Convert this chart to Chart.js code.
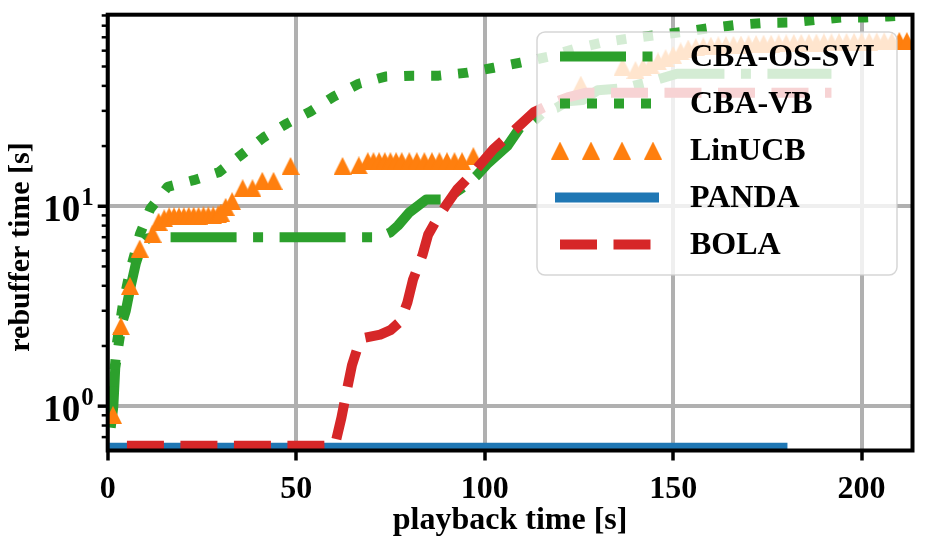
<!DOCTYPE html>
<html>
<head>
<meta charset="utf-8">
<script src="https://cdn.jsdelivr.net/npm/chart.js@4.4.1/dist/chart.umd.min.js"></script>
<style>
  html, body { margin: 0; padding: 0; background: #fff; }
  canvas { display: block; }
</style>
</head>
<body>
<canvas id="myChart" width="928" height="540"></canvas>
<script>
'use strict';

let xTicks = [0, 50, 100, 150, 200];
let yMajor = [1, 10];
let yMinor = [0.7, 0.8, 0.9, 2, 3, 4, 5, 6, 7, 8, 9, 20, 30, 40, 50, 60, 70, 80, 90];
let legendNames = ['CBA-OS-SVI', 'CBA-VB', 'LinUCB', 'PANDA', 'BOLA'];

// CBA-OS-SVI (green, dash-dot)
let sviTime = [0.8, 1.5, 2.0, 3.0, 3.8, 4.8, 6.0, 7.5, 9.0, 10.5, 12.5, 20, 30, 40, 50, 60, 72, 75, 77, 80, 84.5, 90, 92.5, 95.5, 98, 100.6, 106, 109.4, 112, 116, 119, 122, 126, 130, 137, 144, 151, 160, 170, 180, 192];
let sviRebuf = [0.78, 1.0, 1.55, 2.1, 2.6, 3.0, 3.9, 5.2, 6.4, 6.9, 7.0, 7.0, 7.0, 7.0, 7.0, 7.0, 7.0, 7.4, 8.0, 9.3, 10.8, 10.8, 11.8, 12.9, 14.3, 16.2, 20, 24.8, 25.6, 30, 31, 33.5, 34, 38, 39, 42, 46, 46, 46, 46, 46];

// CBA-VB (green, dotted)
let vbTime = [0.8, 1.5, 2.5, 4, 6, 8.6, 11.3, 15.9, 22.8, 29.5, 35.3, 41.4, 47.5, 53.8, 60, 66.6, 73.7, 80.9, 87.8, 95.5, 102.4, 109.5, 117, 124, 131, 138, 146, 152.8, 160, 167, 174, 181, 188, 194.5, 201, 207, 212];
let vbRebuf = [0.82, 1.3, 2.1, 3.2, 4.8, 7.3, 9.7, 12.5, 13.5, 14.8, 18.0, 22.1, 25.9, 29.8, 35.4, 41.0, 44.5, 45, 45, 46.6, 49.3, 52.3, 56, 61.4, 65.8, 68.9, 72, 74.5, 78, 80.8, 82.6, 83, 85.5, 88, 88, 89, 90];

// LinUCB (orange triangles)
let linTime = [1.4, 3.5, 5.9, 8.5, 11.9, 13.5, 15.0, 16.3, 17.6, 18.9, 20.2, 21.5, 22.8, 24.1, 25.4, 26.7, 28.0, 29.3, 30.0, 31.3, 33.0, 35.8, 38.4, 41.0, 44.0, 48.5,
  62.3, 66.6, 69.0, 70.5, 72.0, 73.5, 75.0, 76.5, 78.0, 80.0, 82.0, 84.0, 86.0, 88.0, 90.0, 92.0, 94.0, 97.0,
  125.5, 136.6, 140, 142, 144, 146, 148, 150, 152, 154, 156, 158, 160, 162, 164, 166, 168, 170, 172, 174, 176, 178, 180,
  182, 184, 186, 188, 190, 192, 194, 196, 198, 200, 202, 204, 206, 208, 210, 212];
let linRebuf = [0.905, 2.51, 4.0, 6.14, 7.28, 8.36, 8.7, 8.9, 8.9, 8.9, 8.9, 8.95, 8.95, 8.95, 9.0, 9.0, 9.0, 9.1, 9.3, 9.93, 10.6, 12.3, 12.3, 13.4, 13.4, 15.9,
  15.9, 16.0, 16.8, 16.8, 16.8, 16.8, 16.8, 16.8, 16.8, 16.8, 16.8, 16.8, 16.8, 16.8, 16.8, 16.8, 16.8, 17.8,
  40.6, 49.9, 48, 49.5, 51, 53, 55, 57, 59.5, 61.5, 62.5, 63, 63.5, 63.8, 64, 64.2, 64.4, 64.6, 64.8, 65, 65, 65.2, 65.3,
  65.5, 65.6, 65.7, 65.8, 66, 66, 66.2, 66.3, 66.4, 66.5, 66.6, 66.7, 66.8, 66.8, 67, 67];

// PANDA (blue, solid)
let pandaTime = [0, 30, 60, 90, 120, 150, 179];
let pandaRebuf = [0.62, 0.62, 0.62, 0.62, 0.62, 0.62, 0.62];

// BOLA (red, dashed)
let bolaTime = [5.1, 15, 25, 35, 45, 55, 58, 60.3, 62, 63.4, 64.8, 66.5, 68.2, 72.3, 75, 77.7, 79.5, 81, 83.5, 85, 87, 89.6, 92.8, 97.1, 102.3, 107.6, 113, 118.3, 122, 127, 140, 160, 180, 192];
let bolaRebuf = [0.633, 0.633, 0.633, 0.633, 0.633, 0.633, 0.635, 0.64, 0.875, 1.19, 1.6, 2.02, 2.2, 2.28, 2.4, 2.66, 3.3, 4.3, 5.7, 7.2, 8.4, 10, 12.2, 14.8, 19.3, 23.7, 29.5, 33, 35, 37, 37, 37, 37, 37];

let fontFamily = '"Liberation Serif", "Times New Roman", serif';
let green = '#2ca02c';
let orange = '#ff7f0e';
let blue = '#1f77b4';
let red = '#d62728';

function toPoints(xs, ys){
    return xs.map(function(x, i){ return {x: x, y: ys[i]}; });
}

function makeTriangle(size, color){
    let c = document.createElement('canvas');
    c.width = size;
    c.height = size;
    let g = c.getContext('2d');
    g.fillStyle = color;
    g.beginPath();
    g.moveTo(size / 2, 0);
    g.lineTo(size, size);
    g.lineTo(0, size);
    g.closePath();
    g.fill();
    return c;
}
let triangle = makeTriangle(18, orange);

let dashDot = [66, 16.5, 10, 16.5];
let dotted = [10, 17];
let dashed = [37, 16.5];

// spines, y ticks, y labels, legend
let framePlugin = {
    id: 'frame',
    afterDatasetsDraw: function(chart){
        let ctx = chart.ctx;
        let a = chart.chartArea;
        let y = chart.scales.y;
        ctx.save();
        ctx.strokeStyle = '#000';
        ctx.lineWidth = 4;
        ctx.strokeRect(a.left, a.top, a.right - a.left, a.bottom - a.top);

        ctx.lineWidth = 3.5;
        yMajor.forEach(function(v){
            let p = y.getPixelForValue(v);
            ctx.beginPath(); ctx.moveTo(a.left - 10, p); ctx.lineTo(a.left, p); ctx.stroke();
        });
        ctx.lineWidth = 2.5;
        yMinor.forEach(function(v){
            let p = y.getPixelForValue(v);
            ctx.beginPath(); ctx.moveTo(a.left - 6, p); ctx.lineTo(a.left, p); ctx.stroke();
        });

        // y tick labels 10^n
        ctx.fillStyle = '#000';
        ctx.textBaseline = 'alphabetic';
        yMajor.forEach(function(v){
            let p = y.getPixelForValue(v);
            let exp = String(Math.round(Math.log10(v)));
            ctx.font = 'bold 25px ' + fontFamily;
            let ew = ctx.measureText(exp).width;
            let right = a.left - 14;
            ctx.textAlign = 'right';
            ctx.fillText(exp, right, p - 1);
            ctx.font = 'bold 37px ' + fontFamily;
            ctx.fillText('10', right - ew - 1, p + 15);
        });

        // y axis title
        ctx.save();
        ctx.translate(21, 247);
        ctx.rotate(-Math.PI / 2);
        ctx.font = 'bold 30px ' + fontFamily;
        ctx.textAlign = 'center';
        ctx.textBaseline = 'middle';
        ctx.fillText('rebuffer time [s]', 0, 0);
        ctx.restore();

        // legend
        let bx = 537, by = 32, bw = 360, bh = 243;
        ctx.beginPath();
        ctx.roundRect(bx, by, bw, bh, 8);
        ctx.fillStyle = 'rgba(255,255,255,0.8)';
        ctx.fill();
        ctx.strokeStyle = 'rgba(204,204,204,0.8)';
        ctx.lineWidth = 1.5;
        ctx.stroke();

        let rows = [56.5, 103.5, 150.5, 197.5, 244.5];
        let styles = [
            {color: green, dash: dashDot},
            {color: green, dash: dotted},
            null,
            {color: blue, dash: []},
            {color: red, dash: dashed}
        ];
        for(let i = 0; i < legendNames.length; i++){
            let ry = rows[i];
            if(styles[i]){
                ctx.strokeStyle = styles[i].color;
                ctx.lineWidth = 10;
                ctx.setLineDash(styles[i].dash);
                ctx.lineCap = styles[i].dash.length ? 'butt' : 'square';
                ctx.beginPath(); ctx.moveTo(560, ry); ctx.lineTo(654, ry); ctx.stroke();
                ctx.setLineDash([]);
                ctx.lineCap = 'butt';
            }else{
                [560, 591, 622, 653].forEach(function(tx){
                    ctx.drawImage(triangle, tx - 9, ry - 9);
                });
            }
            ctx.fillStyle = '#000';
            ctx.font = 'bold 32px ' + fontFamily;
            ctx.textAlign = 'left';
            ctx.textBaseline = 'middle';
            ctx.fillText(legendNames[i], 690, ry + 1);
        }
        ctx.restore();
    }
};

let ctx = document.getElementById('myChart').getContext('2d');
let chart = new Chart(ctx, {
    type: 'line',
    data: {
        datasets: [{
            label: legendNames[0],
            data: toPoints(sviTime, sviRebuf),
            borderColor: green,
            borderWidth: 10,
            borderDash: dashDot,
            borderJoinStyle: 'round',
            pointRadius: 0,
            clip: 0,
            order: 5
        },{
            label: legendNames[1],
            data: toPoints(vbTime, vbRebuf),
            borderColor: green,
            borderWidth: 10,
            borderDash: dotted,
            borderJoinStyle: 'round',
            pointRadius: 0,
            clip: 0,
            order: 4
        },{
            label: legendNames[2],
            data: toPoints(linTime, linRebuf),
            showLine: false,
            pointStyle: triangle,
            pointRadius: 9,
            clip: 0,
            order: 3
        },{
            label: legendNames[3],
            data: toPoints(pandaTime, pandaRebuf),
            borderColor: blue,
            borderWidth: 10,
            borderCapStyle: 'square',
            pointRadius: 0,
            clip: 0,
            order: 2
        },{
            label: legendNames[4],
            data: toPoints(bolaTime, bolaRebuf),
            borderColor: red,
            borderWidth: 10,
            borderDash: dashed,
            borderJoinStyle: 'round',
            pointRadius: 0,
            clip: 0,
            order: 1
        }]
    },
    options: {
        responsive: false,
        animation: false,
        devicePixelRatio: 1,
        layout: { padding: { top: 14.7, right: 15.5, left: 0, bottom: 0 } },
        plugins: { legend: { display: false }, tooltip: { enabled: false } },
        scales: {
            x: {
                type: 'linear',
                min: 0,
                max: 213.5,
                afterBuildTicks: function(scale){ scale.ticks = xTicks.map(function(v){ return {value: v}; }); },
                afterFit: function(scale){ scale.height = 89.5; },
                border: { display: false },
                grid: { color: '#b0b0b0', lineWidth: 4, tickColor: '#000', tickLength: 10, tickWidth: 3.5 },
                ticks: { color: '#000', font: { family: fontFamily, size: 32, weight: 'bold' }, padding: 10, maxRotation: 0, autoSkip: false },
                title: { display: true, text: 'playback time [s]', color: '#000', font: { family: fontFamily, size: 32, weight: 'bold' }, padding: { top: 0, bottom: 0 } }
            },
            y: {
                type: 'logarithmic',
                min: 0.617,
                max: 90.8,
                afterBuildTicks: function(scale){ scale.ticks = yMajor.concat(yMinor).map(function(v){ return {value: v}; }); },
                afterFit: function(scale){ scale.width = 107.7; },
                border: { display: false },
                grid: {
                    color: function(c){ return yMajor.indexOf(c.tick.value) >= 0 ? '#b0b0b0' : 'rgba(0,0,0,0)'; },
                    lineWidth: 4,
                    drawTicks: false
                },
                ticks: { display: false }
            }
        }
    },
    plugins: [framePlugin]
});
</script>
</body>
</html>
